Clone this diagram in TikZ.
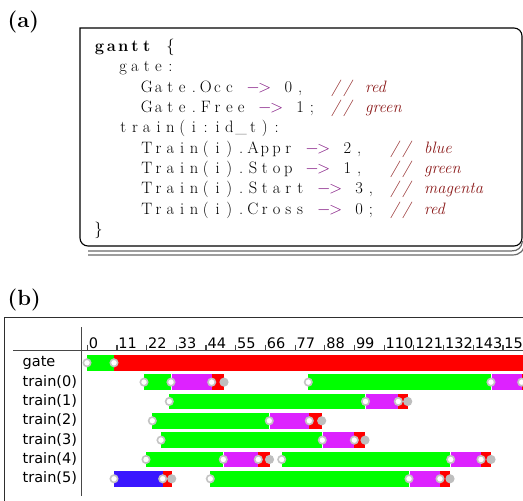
\documentclass[tikz,border=0pt]{standalone}
\usepackage{fontspec}
\newfontfamily\dejavu{DejaVu Sans}

\definecolor{kwpurple}{RGB}{128,20,128}
\definecolor{cmtred}{RGB}{139,26,26}
\definecolor{bargreen}{RGB}{0,255,0}
\definecolor{barred}{RGB}{255,0,0}
\definecolor{barmag}{RGB}{221,34,255}
\definecolor{barblue}{RGB}{58,22,255}
\definecolor{ringgray}{RGB}{196,196,196}
\definecolor{endgray}{RGB}{190,190,190}
\definecolor{shadowgray}{RGB}{105,105,105}

% fixed-column typesetting: every argument goes into a cell of equal width
\newlength\cellwd
\setlength\cellwd{11.8pt}
\makeatletter
\def\cellend{}
\def\cellendmark{\cellend}
\def\cellrow#1{\cell@next#1\cellend}
\def\cell@next#1{\def\cell@arg{#1}%
  \ifx\cell@arg\cellendmark\else\makebox[\cellwd]{#1}\expandafter\cell@next\fi}
\makeatother
\def\kwc{\color{kwpurple}}
\def\cmc{\color{cmtred}\itshape}
% the arrow operator, minus and greater-than as math symbols
\def\arrowcells{{\kwc$-$}{\kwc$>$}}

\begin{document}
\begin{tikzpicture}[x=1pt,y=-1pt,
  code/.style={anchor=base west, inner sep=0pt, font=\fontsize{16.5}{19}\selectfont},
  plabel/.style={anchor=base west, inner sep=0pt, font=\fontsize{22}{26}\selectfont\bfseries},
  rowlbl/.style={anchor=base west, inner sep=0pt, font=\dejavu\fontsize{14.5}{17}\selectfont},
  ticklbl/.style={anchor=base west, inner sep=0pt, font=\dejavu\fontsize{14.5}{17}\selectfont},
  axisline/.style={draw=black!72, line width=1.4pt},
  frameline/.style={draw=black!82, line width=1.4pt},
  shadowline/.style={draw=shadowgray, line width=1.2pt},
  startmark/.style={fill=white, draw=ringgray, line width=1.6pt},
  endmark/.style={fill=endgray},
]
\useasboundingbox (0,0) rectangle (523,501);
\clip (0,0) rectangle (523,501);

% ---------- (a) listing ----------
\node[plabel] (la) at (7.5,27) {(a)};

\draw[black, line width=1.1pt, rounded corners=8pt]
  (80,28) -- (522,28) -- (522,246) -- (80,246) -- (80,27.45);
\draw[shadowline] (88,251) -- (511,251) .. controls (518,251) and (521.5,248) .. (522.5,241);
\draw[shadowline] (88,255) -- (512,255) .. controls (520,255) and (524.5,251) .. (525,241);

\node[code] (c1) at (93.5,51.5)
  {\cellrow{{\bfseries g}{\bfseries a}{\bfseries n}{\bfseries t}{\bfseries t}~\{}};
\node[code] (c2) at (117.1,71.8) {\cellrow{gate:}};
\node[code] (c3) at (140.7,92.2)
  {\cellrow{Gate.Occ~{\kwc$-$}{\kwc$>$}~0,~~{\cmc/}{\cmc/}~}{\cmc red}};
\node[code] (c4) at (140.7,112.5)
  {\cellrow{Gate.Free~{\kwc$-$}{\kwc$>$}~1;~{\cmc/}{\cmc/}~}{\cmc green}};
\node[code] (c5) at (117.1,132.8) {\cellrow{train(i:id\_t):}};
\node[code] (c6) at (140.7,153.2)
  {\cellrow{Train(i).Appr~{\kwc$-$}{\kwc$>$}~2,~~{\cmc/}{\cmc/}~}{\cmc blue}};
\node[code] (c7) at (140.7,173.5)
  {\cellrow{Train(i).Stop~{\kwc$-$}{\kwc$>$}~1,~~{\cmc/}{\cmc/}~}{\cmc green}};
\node[code] (c8) at (140.7,193.8)
  {\cellrow{Train(i).Start~{\kwc$-$}{\kwc$>$}~3,~{\cmc/}{\cmc/}~}{\cmc magenta}};
\node[code] (c9) at (140.7,214.1)
  {\cellrow{Train(i).Cross~{\kwc$-$}{\kwc$>$}~0;~{\cmc/}{\cmc/}~}{\cmc red}};
\node[code] (c10) at (92.5,234.5) {\cellrow{\}}};

% ---------- (b) chart ----------
\node[plabel] (lb) at (7.5,305) {(b)};

\draw[frameline] (4.3,502) -- (4.3,317.5) -- (524,317.5);
\draw[axisline] (13,350.7) -- (524,350.7);
\draw[axisline] (81.7,327) -- (81.7,496);

% time axis: one tick every 11 units
\foreach \v [count=\i] in {0,11,...,154} {
  \pgfmathsetmacro\tx{87.3+2.699*\v}
  \draw[axisline, line width=1.2pt] (\tx,344.5) -- (\tx,350.7);
  \node[ticklbl] (t\i) at (\tx+1.3,348.5) {\v};
}

% row names
\foreach \name [count=\r from 0] in {gate,train(0),train(1),train(2),train(3),train(4),train(5)} {
  \node[rowlbl] (row\r) at (22.5,{362.8+19.33*\r+4}) {\name};
}

% state segments: row / from / to / colour
\foreach \r/\a/\b/\c in {
  0/87/114/bargreen, 0/114/530/barred,
  1/144/171/bargreen, 1/171/211.7/barmag, 1/211.7/224/barred,
  1/308.3/491/bargreen, 1/491/521.7/barmag, 1/521.7/530/barred,
  2/169.3/365.5/bargreen, 2/365.5/398.3/barmag, 2/398.3/407.7/barred,
  3/152.3/269.3/bargreen, 3/269.3/309.3/barmag, 3/309.3/321.7/barred,
  4/161/322.3/bargreen, 4/322.3/354.3/barmag, 4/354.3/365/barred,
  5/146/223.3/bargreen, 5/223.3/258.3/barmag, 5/258.3/269.5/barred,
  5/281.7/450.7/bargreen, 5/450.7/481/barmag, 5/481/491/barred,
  6/114/162.7/barblue, 6/162.7/171.7/barred,
  6/210.3/409/bargreen, 6/409/440/barmag, 6/440/450/barred} {
  \fill[\c] (\a,{362.8+19.33*\r-7.9}) rectangle (\b,{362.8+19.33*\r+7.9});
}

% thin white seams between adjoining segments
\foreach \r/\a in {1/171, 1/491, 2/365.5, 3/269.3, 4/322.3, 5/223.3, 5/450.7, 6/409} {
  \draw[white, line width=0.9pt] (\a,{362.8+19.33*\r-7.9}) -- (\a,{362.8+19.33*\r+7.9});
}

% state-change markers
\foreach \r/\a in {
  0/87, 0/114,
  1/144, 1/171, 1/211.7, 1/308.3, 1/491, 1/521.7,
  2/169.3, 2/365.5, 2/398.3,
  3/152.3, 3/269.3, 3/309.3,
  4/161, 4/322.3, 4/354.3,
  5/146, 5/223.3, 5/258.3, 5/281.7, 5/450.7, 5/481,
  6/114, 6/162.7, 6/210.3, 6/409, 6/440} {
  \filldraw[startmark] (\a,{362.8+19.33*\r}) circle[radius=3.7];
}
\foreach \r/\a in {1/224, 2/407.7, 3/321.7, 4/365, 5/269.5, 5/491, 6/171.7, 6/450} {
  \fill[endmark] (\a,{362.8+19.33*\r}) circle[radius=4.6];
}
\end{tikzpicture}
\end{document}
